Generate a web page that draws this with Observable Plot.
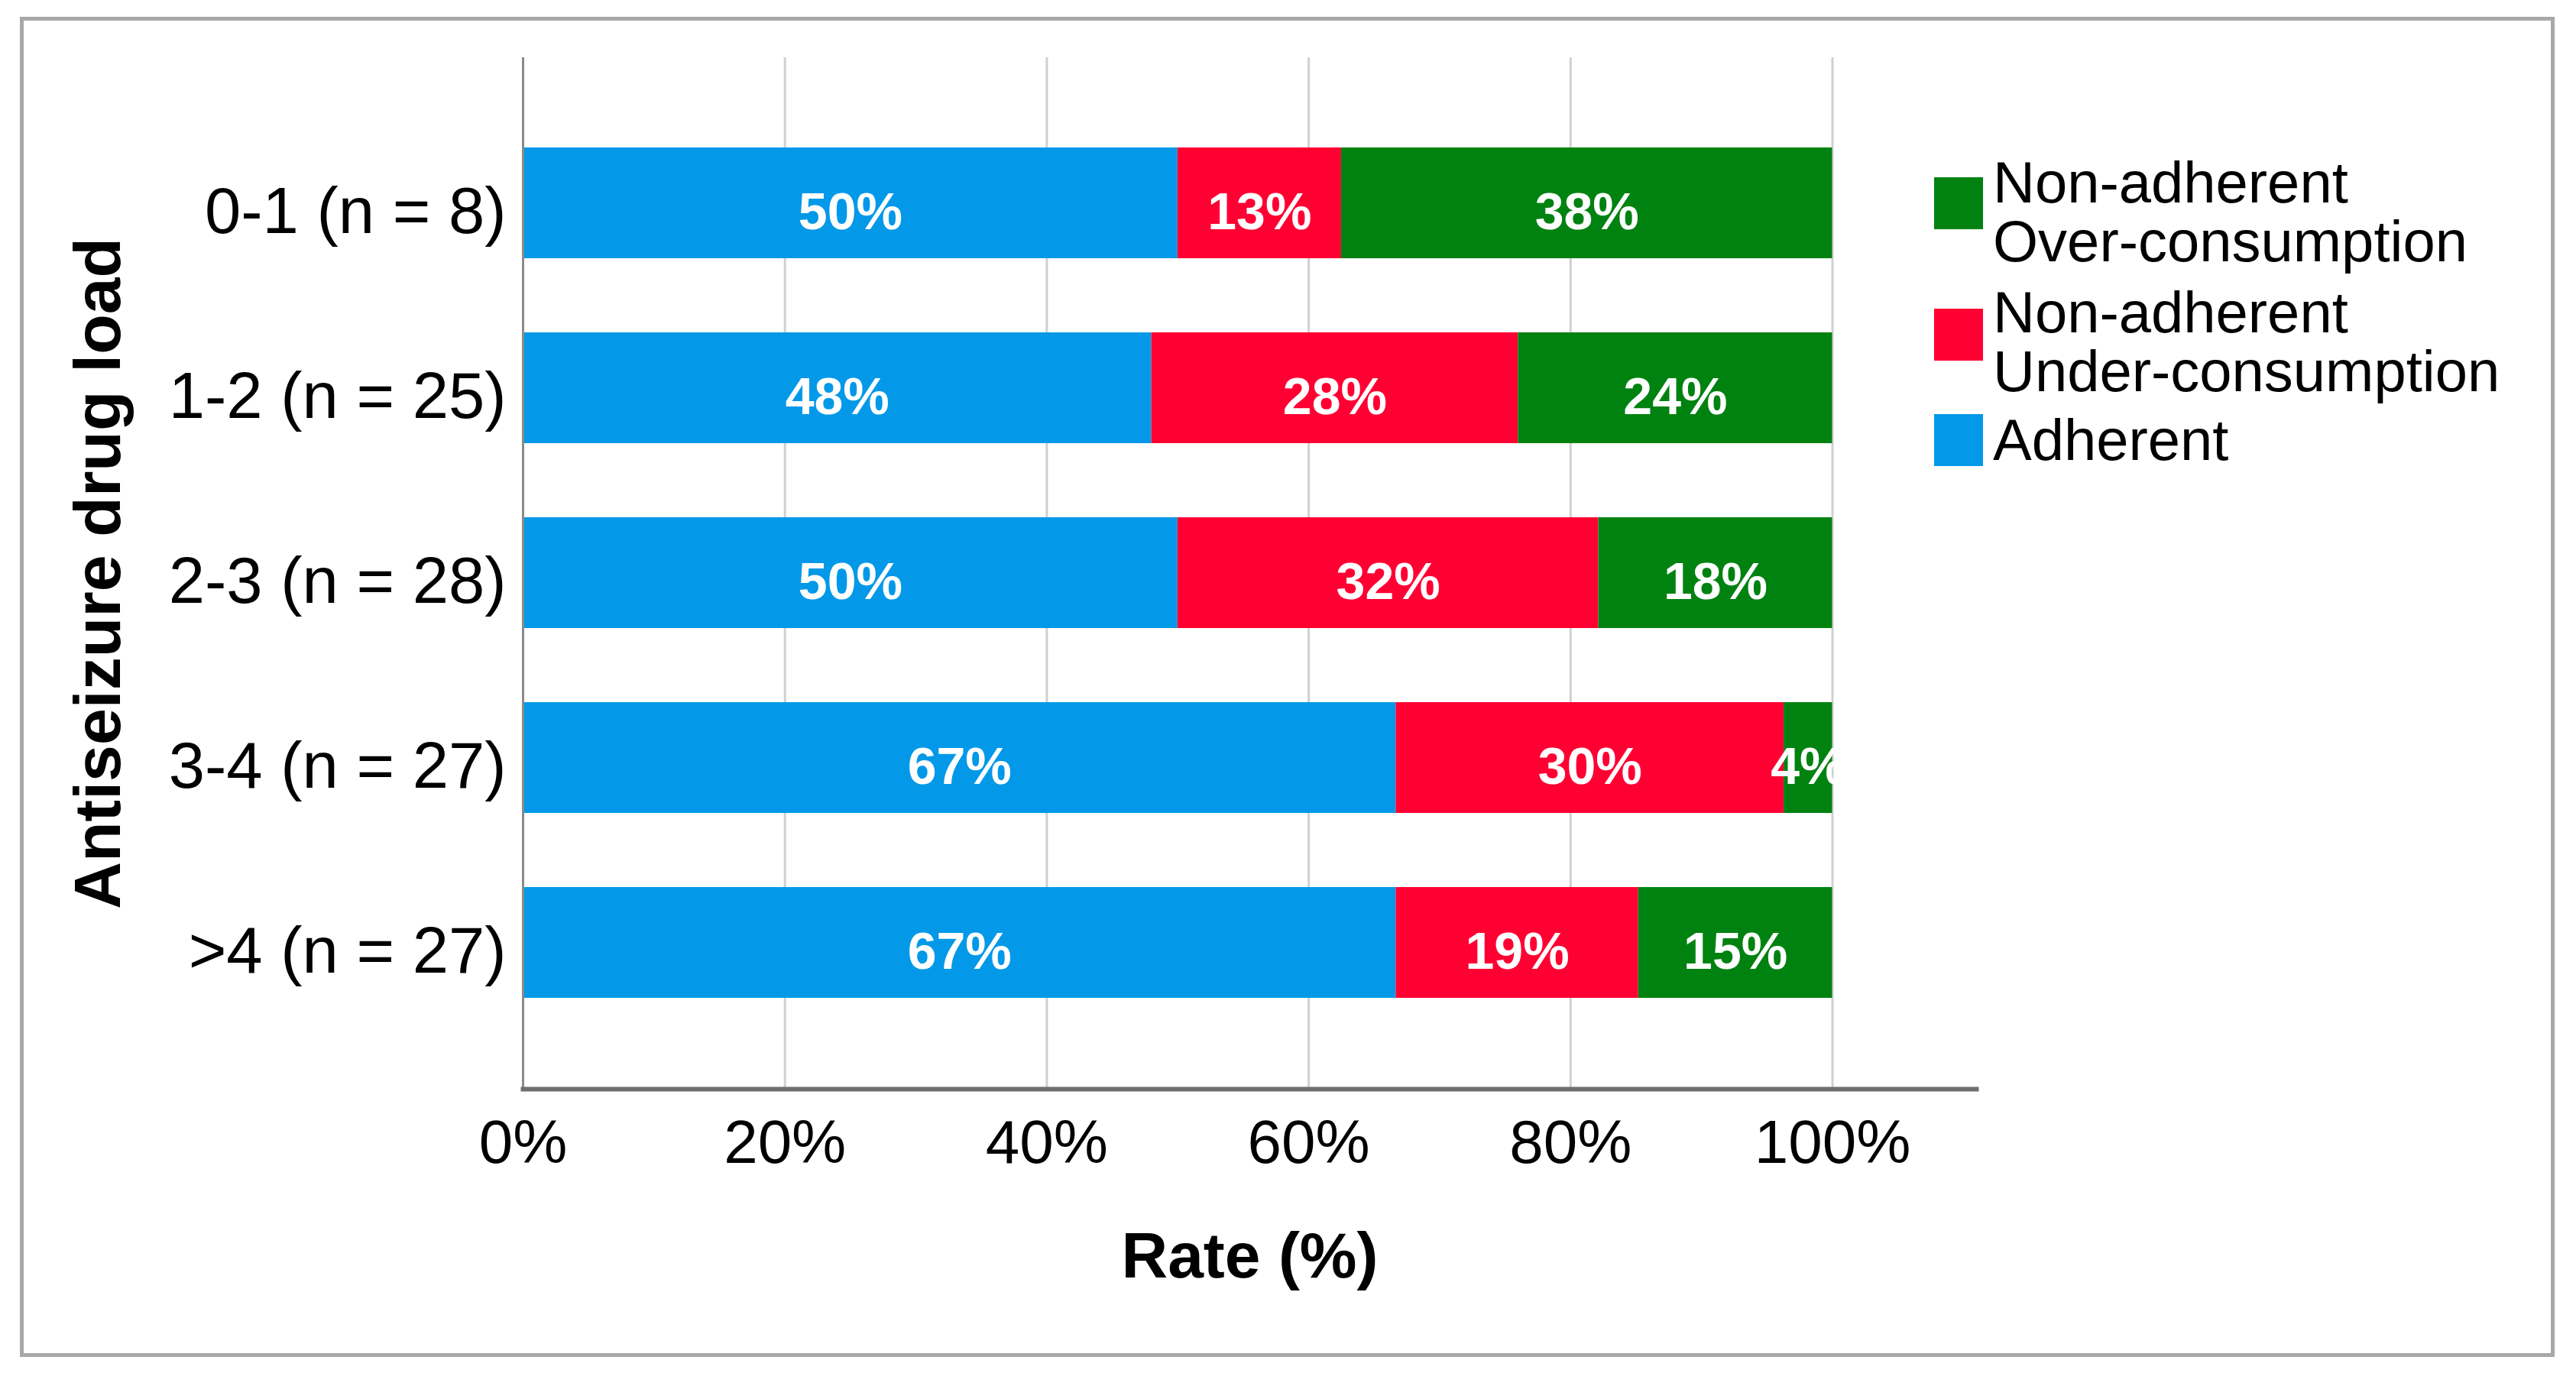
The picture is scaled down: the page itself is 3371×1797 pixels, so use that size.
<!DOCTYPE html>
<html><head><meta charset="utf-8">
<script src="https://cdn.jsdelivr.net/npm/d3@7"></script>
<script src="https://cdn.jsdelivr.net/npm/@observablehq/plot@0.6"></script>
<style>
body{margin:0;background:#fff;font-family:"Liberation Sans",Arial,sans-serif;}
#wrap{position:relative;width:3371px;height:1797px;overflow:hidden;}
#border{position:absolute;left:26px;top:22px;width:3317px;height:1754px;border:5px solid #a8a8a8;box-sizing:border-box;}
#chart{position:absolute;left:0;top:0;}
.leg{position:absolute;left:2608px;font-size:76px;line-height:77px;color:#000;white-space:nowrap;}
.sw{position:absolute;left:2531px;width:64px;height:68px;}
</style></head><body>
<div id="wrap"><div id="border"></div><div id="chart"></div></div>
<script>
// ---- data ----
const categories = ["0-1 (n = 8)", "1-2 (n = 25)", "2-3 (n = 28)", "3-4 (n = 27)", ">4 (n = 27)"];
const seriesNames = ["Adherent", "Non-adherent Under-consumption", "Non-adherent Over-consumption"];
const adherent = [50, 48, 50, 66.67, 66.67];
const underConsumption = [12.5, 28, 32.14, 29.63, 18.52];
const overConsumption = [37.5, 24, 17.86, 3.70, 14.81];
const seriesColors = ["#0399e8", "#ff0033", "#008211"];
const xTicks = [0, 20, 40, 60, 80, 100];
const gridTicks = [20, 40, 60, 80, 100];
const legendItems = [
  {lines: ["Non-adherent", "Over-consumption"], color: seriesColors[2]},
  {lines: ["Non-adherent", "Under-consumption"], color: seriesColors[1]},
  {lines: ["Adherent"], color: seriesColors[0]}
];

const seriesValues = [adherent, underConsumption, overConsumption];
const rows = [];
categories.forEach((cat, i) => {
  seriesNames.forEach((s, j) => rows.push({cat, series: s, value: seriesValues[j][i]}));
});

const plot = Plot.plot({
  width: 3371, height: 1797,
  marginLeft: 684, marginRight: 785, marginTop: 75, marginBottom: 372,
  style: {fontFamily: "'Liberation Sans', Arial, sans-serif", background: "transparent", color: "#000"},
  x: {domain: [0, 111], label: null},
  y: {domain: categories, paddingInner: 0.4, paddingOuter: 0.48, label: null},
  color: {domain: seriesNames, range: seriesColors},
  marks: [
    Plot.gridX(gridTicks, {stroke: "#d0d0d0", strokeOpacity: 1, strokeWidth: 3}),
    Plot.barX(rows, Plot.stackX({x: "value", y: "cat", fill: "series", order: null})),
    Plot.text(rows, Plot.stackX({x: "value", y: "cat", z: "series", order: null, dy: 12,
      text: d => Math.round(d.value) + "%", fill: "white", fontWeight: "bold", fontSize: 68, ariaLabel: "seglabels"})),
    Plot.ruleX([0], {stroke: "#8a8a8a", strokeWidth: 3}),
    Plot.frame({anchor: "bottom", stroke: "#6e6e6e", strokeWidth: 6}),
    Plot.axisX(xTicks, {tickSize: 0, tickPadding: 40, fontSize: 80, tickFormat: d => d + "%", label: null}),
    Plot.axisY({tickSize: 0, tickPadding: 22, fontSize: 85, dy: 12, label: null}),
    Plot.text(["Rate (%)"], {text: d => d, frameAnchor: "bottom", dy: 220, lineAnchor: "middle", fontWeight: "bold", fontSize: 84, fill: "#000"}),
    Plot.text(["Antiseizure drug load"], {text: d => d, frameAnchor: "left", dx: -555, rotate: -90, lineAnchor: "middle", textAnchor: "middle", fontWeight: "bold", fontSize: 86, fill: "#000"})
  ]
});

const xs = plot.scale("x");
const svg = d3.select(plot);
svg.append("defs").append("clipPath").attr("id", "clip100")
  .append("rect").attr("x", xs.apply(0)).attr("y", 0)
  .attr("width", xs.apply(100) - xs.apply(0)).attr("height", 1797);
svg.select('g[aria-label="seglabels"]').attr("clip-path", "url(#clip100)");
document.getElementById("chart").appendChild(plot);

// legend
const wrap = document.getElementById("wrap");
const itemTops = [200, 370, 537];
const swTops = [232, 404, 542];
legendItems.forEach((it, i) => {
  const sw = document.createElement("div");
  sw.className = "sw"; sw.style.top = swTops[i] + "px"; sw.style.background = it.color;
  wrap.appendChild(sw);
  const t = document.createElement("div");
  t.className = "leg"; t.style.top = itemTops[i] + "px";
  t.innerHTML = it.lines.join("<br>");
  wrap.appendChild(t);
});
</script>
</body></html>
